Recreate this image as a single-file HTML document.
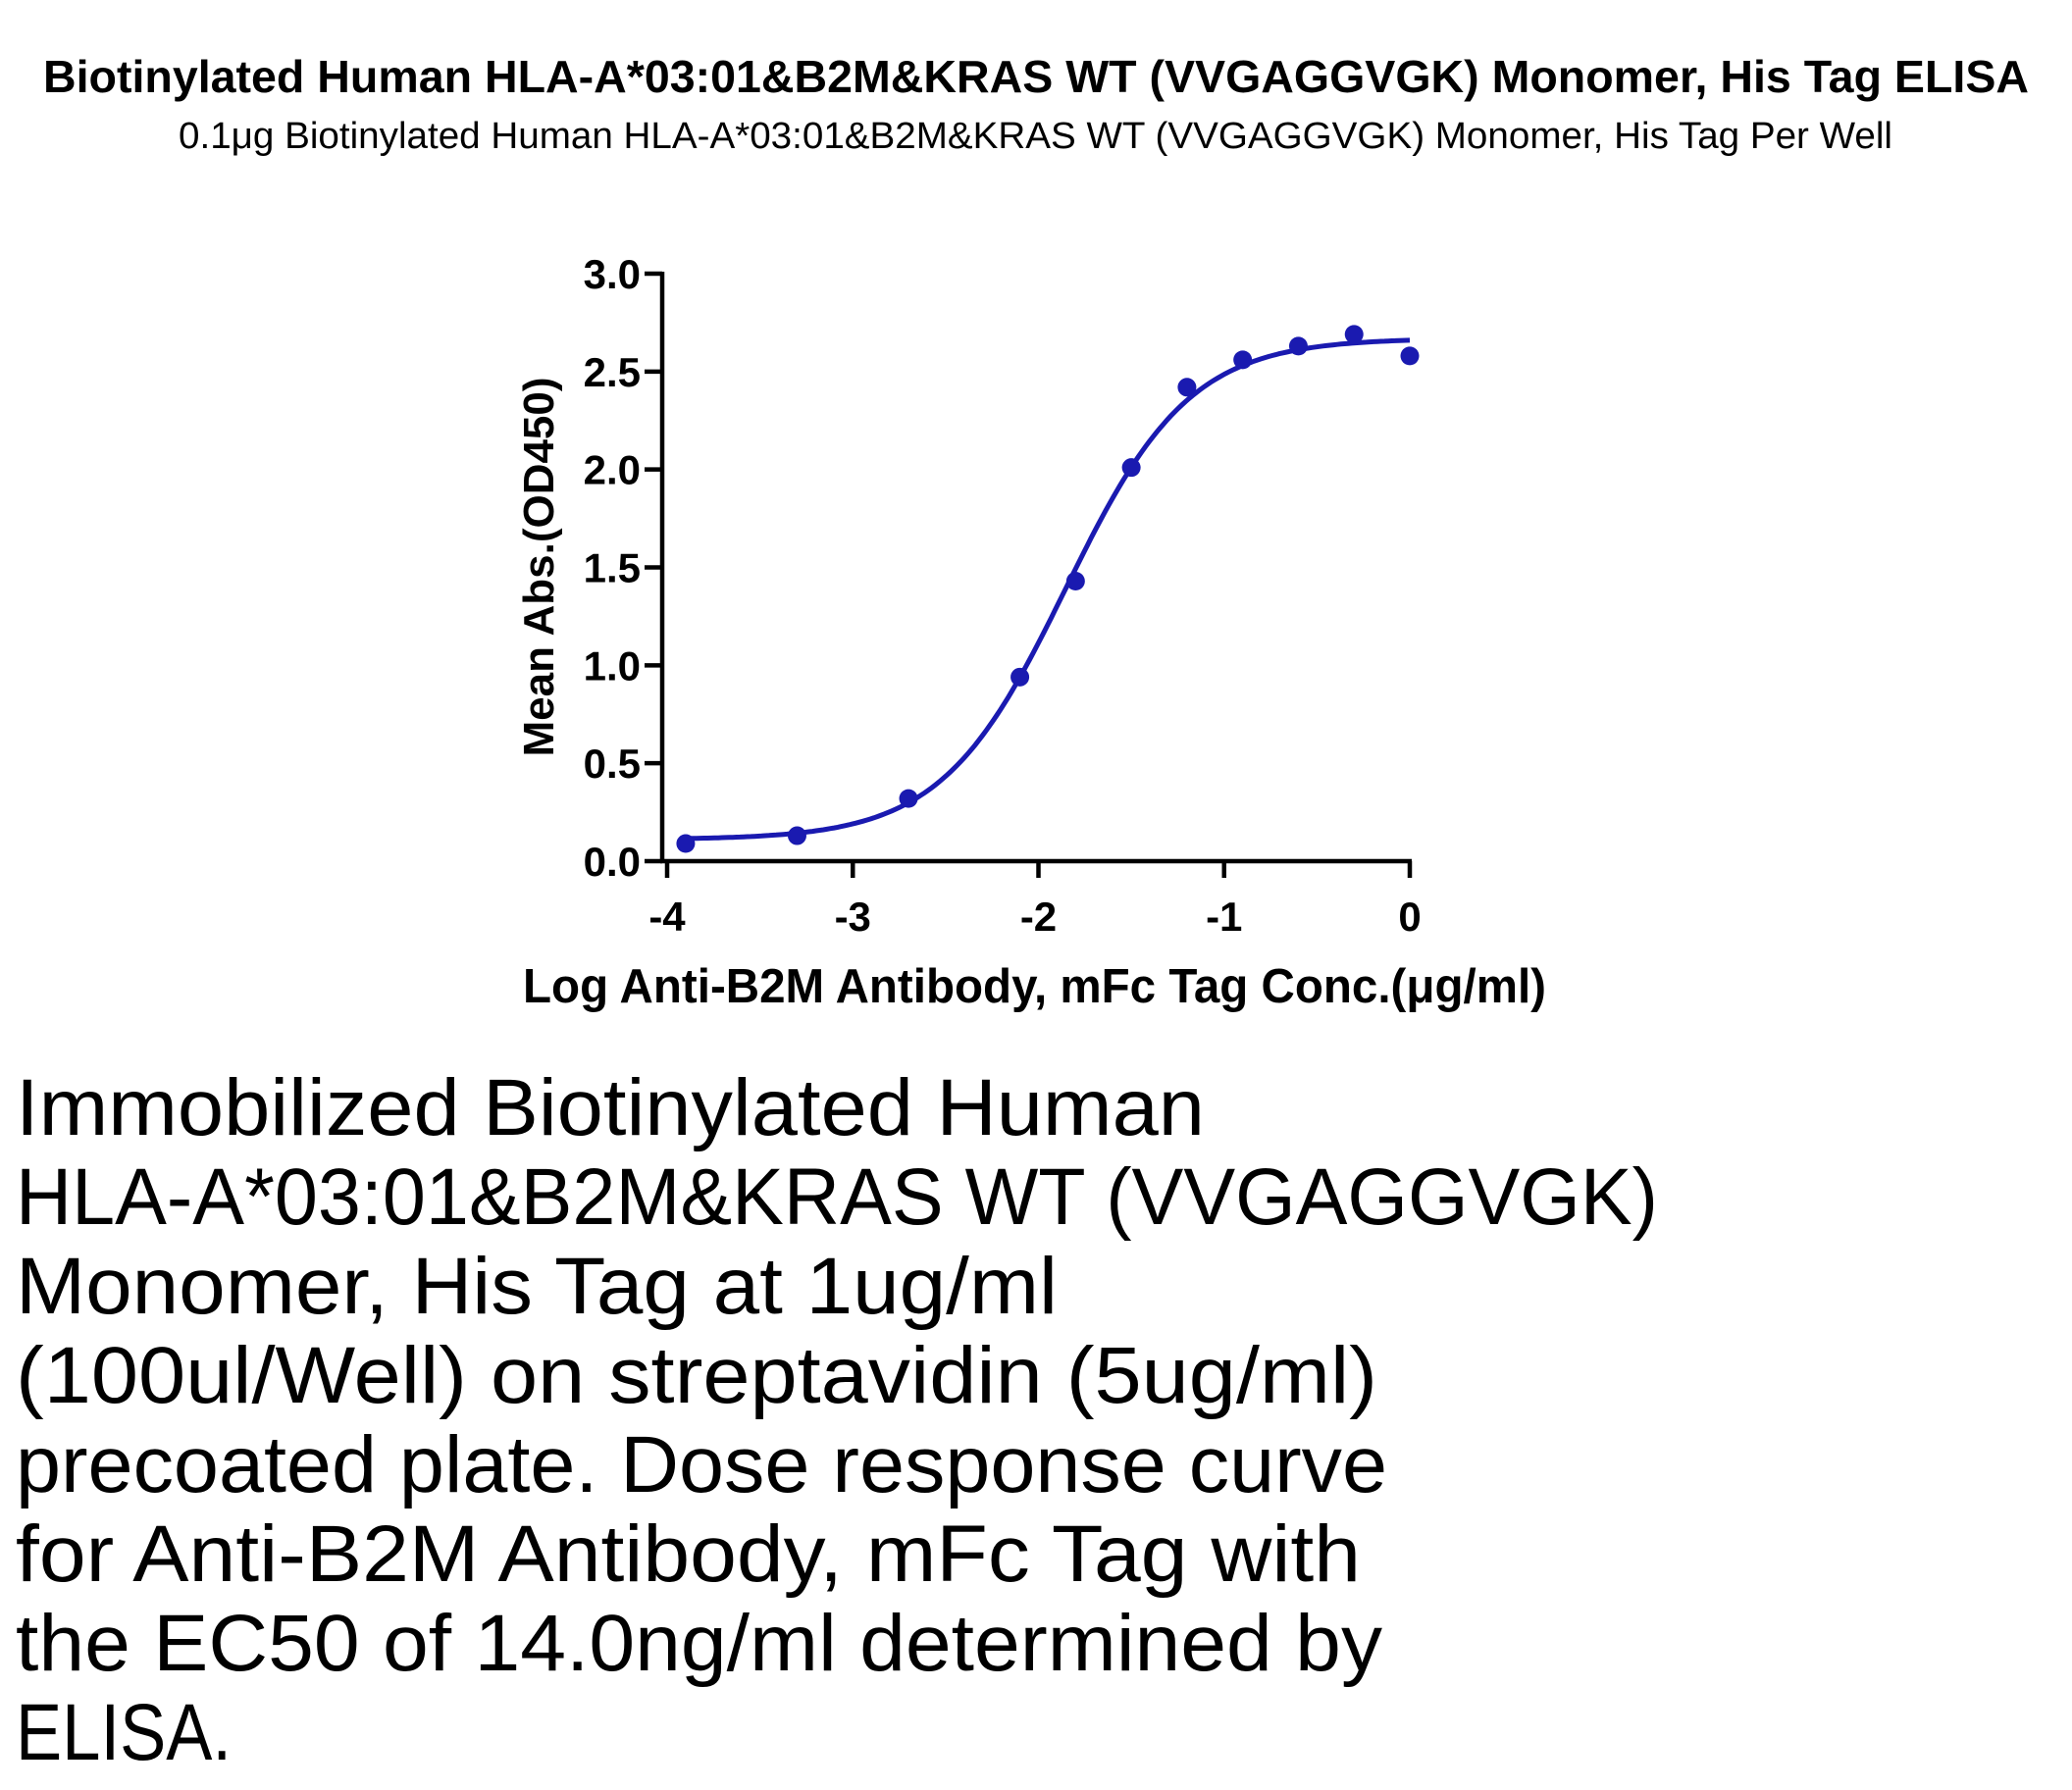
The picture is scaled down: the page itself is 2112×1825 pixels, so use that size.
<!DOCTYPE html>
<html><head><meta charset="utf-8"><style>
html,body{margin:0;padding:0;background:#fff}
svg{display:block;font-family:"Liberation Sans",sans-serif}
</style></head><body>
<svg id="chart" width="2112" height="1825" viewBox="0 0 2112 1825" xmlns="http://www.w3.org/2000/svg">
<text x="44" y="94" font-size="46" font-weight="bold" textLength="2024" lengthAdjust="spacingAndGlyphs">Biotinylated Human HLA-A*03:01&amp;B2M&amp;KRAS WT (VVGAGGVGK) Monomer, His Tag ELISA</text>
<text x="182" y="151" font-size="38" textLength="1747" lengthAdjust="spacingAndGlyphs">0.1μg Biotinylated Human HLA-A*03:01&amp;B2M&amp;KRAS WT (VVGAGGVGK) Monomer, His Tag Per Well</text>
<g id="axes"></g>
<g id="marks"></g>
<text transform="translate(564,578) rotate(-90)" text-anchor="middle" font-size="44" font-weight="bold" textLength="387" lengthAdjust="spacingAndGlyphs">Mean Abs.(OD450)</text>
<text x="533" y="1022" font-size="49" font-weight="bold" textLength="1043" lengthAdjust="spacingAndGlyphs">Log Anti-B2M Antibody, mFc Tag Conc.(μg/ml)</text>
<g font-size="82">
<text x="16" y="1157" textLength="1212" lengthAdjust="spacingAndGlyphs">Immobilized Biotinylated Human</text>
<text x="16" y="1248" textLength="1674" lengthAdjust="spacingAndGlyphs">HLA-A*03:01&amp;B2M&amp;KRAS WT (VVGAGGVGK)</text>
<text x="16" y="1339" textLength="1062" lengthAdjust="spacingAndGlyphs">Monomer, His Tag at 1ug/ml</text>
<text x="16" y="1430" textLength="1388" lengthAdjust="spacingAndGlyphs">(100ul/Well) on streptavidin (5ug/ml)</text>
<text x="16" y="1521" textLength="1398" lengthAdjust="spacingAndGlyphs">precoated plate. Dose response curve</text>
<text x="16" y="1612" textLength="1371" lengthAdjust="spacingAndGlyphs">for Anti-B2M Antibody, mFc Tag with</text>
<text x="16" y="1703" textLength="1393" lengthAdjust="spacingAndGlyphs">the EC50 of 14.0ng/ml determined by</text>
<text x="16" y="1794" textLength="220" lengthAdjust="spacingAndGlyphs">ELISA.</text>
</g>
</svg>
<script>
const logConc = [-3.9, -3.3, -2.7, -2.1, -1.8, -1.5, -1.2, -0.9, -0.6, -0.3, 0];
const meanAbs = [0.09, 0.13, 0.32, 0.94, 1.43, 2.01, 2.42, 2.56, 2.63, 2.69, 2.58];
const fitParams = [0.11, 2.67, -1.854, 1.3]; // bottom, top, logEC50, hill
const xTicks = [-4, -3, -2, -1, 0];
const yTicks = [0, 0.5, 1, 1.5, 2, 2.5, 3];
const yTickLabels = ["0.0","0.5","1.0","1.5","2.0","2.5","3.0"];

const NS = "http://www.w3.org/2000/svg";
const X0 = 680, X1 = 1437, Y0 = 878, Y1 = 279, AX = 675;
const sx = v => X0 + (v - (-4)) / 4 * (X1 - X0);
const sy = v => Y0 - v / 3 * (Y0 - Y1);
const blue = "#1a1ab0";
function mk(tag, attrs, parent) {
  const e = document.createElementNS(NS, tag);
  for (const k in attrs) e.setAttribute(k, attrs[k]);
  parent.appendChild(e);
  return e;
}
const axes = document.getElementById("axes");
const marks = document.getElementById("marks");
const ya = mk("line", {x1: AX, y1: Y1 - 2, x2: AX, y2: Y0 + 2, stroke: "#000", "stroke-width": 4.5}, axes);


const xa = mk("line", {x1: AX - 2, y1: Y0, x2: X1 + 2, y2: Y0, stroke: "#000", "stroke-width": 4.5}, axes);


yTicks.forEach((v, i) => {
  const t = mk("line", {x1: AX - 18, y1: sy(v), x2: AX, y2: sy(v), stroke: "#000", "stroke-width": 4.5}, axes);
  
  
  const l = mk("text", {x: AX - 22, y: sy(v) + 15, "text-anchor": "end", "font-size": 42, "font-weight": "bold"}, axes);
  
  
  l.textContent = yTickLabels[i];
});
xTicks.forEach(v => {
  const t = mk("line", {x1: sx(v), y1: Y0, x2: sx(v), y2: Y0 + 17, stroke: "#000", "stroke-width": 4.5}, axes);
  
  
  const l = mk("text", {x: sx(v), y: 949, "text-anchor": "middle", "font-size": 42, "font-weight": "bold"}, axes);
  
  
  l.textContent = String(v);
});
const [B, T, EC, H] = fitParams;
const f = x => B + (T - B) / (1 + Math.pow(10, (EC - x) * H));
let d = "";
const xmin = Math.min(...logConc), xmax = Math.max(...logConc);
for (let i = 0; i <= 200; i++) {
  const x = xmin + (xmax - xmin) * i / 200;
  d += (i ? "L" : "M") + sx(x).toFixed(1) + "," + sy(f(x)).toFixed(1);
}
const curve = mk("path", {d: d, fill: "none", stroke: blue, "stroke-width": 5}, marks);


logConc.forEach((x, i) => {
  const c = mk("circle", {cx: sx(x), cy: sy(meanAbs[i]), r: 9.5, fill: blue}, marks);
  
  
});
</script>
</body></html>
